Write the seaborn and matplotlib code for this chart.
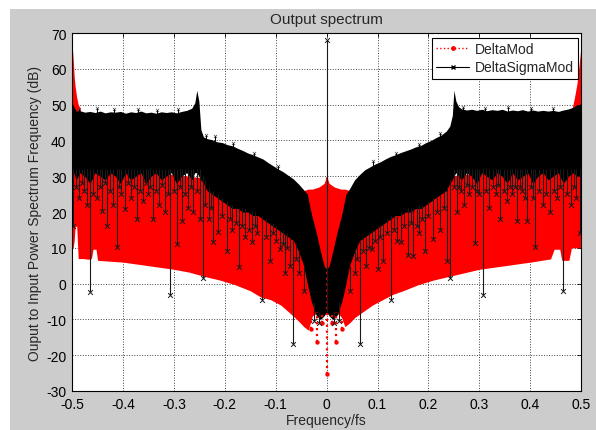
import seaborn as sns
import matplotlib.pyplot as plt
from matplotlib.lines import Line2D
from matplotlib.patches import Rectangle

# ---- data (frequency/fs, dB) ----

# DeltaMod (red): upper / lower edge of the dense red cloud
dm_freq = [-0.500, -0.498, -0.496, -0.494, -0.491, -0.488, -0.484, -0.478, -0.468, -0.462,
           -0.459, -0.453, -0.450, -0.430, -0.400, -0.370, -0.340, -0.300, -0.270, -0.240,
           -0.210, -0.180, -0.150, -0.130, -0.110, -0.090, -0.070, -0.055, -0.045, -0.036,
           -0.028, -0.015, -0.005, 0.000, 0.005, 0.015, 0.028, 0.036, 0.045, 0.055,
           0.070, 0.090, 0.110, 0.130, 0.150, 0.180, 0.210, 0.240, 0.270, 0.300,
           0.340, 0.370, 0.400, 0.440, 0.447, 0.458, 0.462, 0.476, 0.481, 0.487,
           0.492, 0.496, 0.500]
dm_hi = [66.5, 63.0, 58.0, 55.0, 52.0, 50.0, 49.0, 33.0, 32.0, 32.0,
         32.0, 32.0, 32.0, 32.0, 31.5, 31.0, 31.0, 30.5, 30.0, 29.5,
         29.0, 28.5, 28.0, 27.5, 27.0, 27.0, 26.5, 26.0, 26.0, 26.4,
         26.4, 27.0, 28.0, 30.0, 28.0, 27.0, 26.4, 26.4, 26.0, 26.0,
         27.0, 27.0, 27.5, 28.0, 28.5, 29.0, 29.5, 30.0, 30.5, 31.0,
         31.0, 31.5, 32.0, 32.0, 32.0, 32.0, 32.0, 33.0, 48.0, 52.0,
         56.0, 61.0, 66.5]
dm_lo = [10.0, 10.0, 12.0, 16.0, 16.0, 7.0, 7.0, 7.0, 6.8, 7.0,
         9.6, 9.6, 6.5, 6.3, 6.0, 5.4, 4.8, 4.0, 3.2, 2.0,
         1.0, -0.3, -2.0, -3.7, -4.5, -6.0, -8.5, -10.5, -12.0, -13.0,
         -9.0, -8.0, -8.0, -8.0, -8.0, -8.0, -9.0, -12.0, -11.0, -9.5,
         -8.0, -6.0, -4.5, -3.0, -2.0, -0.3, 1.0, 2.0, 3.0, 4.0,
         4.8, 5.4, 6.0, 6.9, 9.6, 9.6, 6.5, 6.5, 10.0, 10.0,
         10.0, 10.0, 10.0]

# DeltaMod dotted columns around dc
dm_col_freq = [-0.030, -0.019, -0.010, 0.000, 0.010, 0.019, 0.030]
dm_col_top = [-8, -8, -8, 30, -8, -8, -8]
dm_col_db = [-12.7, -16.3, -11.0, -25.3, -11.0, -16.3, -12.7]

# DeltaSigmaMod (black): upper / lower edge of the dense black cloud
ds_freq = [-0.500, -0.497, -0.492, -0.485, -0.475, -0.465, -0.455, -0.445, -0.435, -0.425,
           -0.415, -0.405, -0.395, -0.385, -0.375, -0.365, -0.355, -0.345, -0.335, -0.325,
           -0.315, -0.305, -0.295, -0.285, -0.275, -0.265, -0.259, -0.255, -0.251, -0.247,
           -0.242, -0.235, -0.225, -0.215, -0.205, -0.195, -0.185, -0.175, -0.165, -0.155,
           -0.145, -0.135, -0.125, -0.115, -0.105, -0.095, -0.085, -0.075, -0.065, -0.055,
           -0.045, -0.038, -0.030, -0.020, -0.012, -0.005, 0.000, 0.005, 0.012, 0.020,
           0.030, 0.038, 0.045, 0.055, 0.065, 0.075, 0.085, 0.095, 0.105, 0.115,
           0.125, 0.135, 0.145, 0.155, 0.165, 0.175, 0.185, 0.195, 0.205, 0.215,
           0.225, 0.235, 0.242, 0.247, 0.250, 0.254, 0.259, 0.265, 0.275, 0.285,
           0.295, 0.305, 0.315, 0.325, 0.335, 0.345, 0.355, 0.365, 0.375, 0.385,
           0.395, 0.405, 0.415, 0.425, 0.435, 0.445, 0.455, 0.465, 0.475, 0.485,
           0.492, 0.497, 0.500]
ds_hi = [50.5, 49.5, 48.2, 48.3, 47.9, 48.1, 47.8, 48.2, 47.7, 48.0,
         47.9, 48.1, 47.6, 48.0, 47.8, 48.2, 47.7, 47.9, 47.6, 48.0,
         47.8, 48.0, 47.7, 48.1, 48.4, 49.0, 50.5, 54.0, 51.0, 43.0,
         41.0, 40.5, 40.2, 39.6, 39.4, 38.8, 38.5, 37.8, 37.2, 36.5,
         36.0, 35.4, 34.8, 33.8, 32.9, 32.0, 31.2, 30.2, 29.2, 27.8,
         26.2, 25.0, 19.5, 14.0, 9.0, 5.0, 4.0, 5.0, 9.0, 14.0,
         19.5, 25.0, 26.5, 29.0, 30.5, 31.8, 32.6, 33.4, 34.0, 34.8,
         35.5, 36.0, 36.6, 37.1, 37.6, 38.2, 38.6, 39.4, 40.0, 40.8,
         41.5, 42.6, 44.0, 47.0, 54.0, 51.0, 49.5, 48.8, 48.5, 48.7,
         48.4, 48.7, 48.3, 48.6, 48.4, 48.7, 48.2, 48.5, 48.3, 48.6,
         48.2, 48.5, 48.2, 48.4, 48.2, 48.4, 48.1, 48.5, 48.8, 49.3,
         50.0, 50.0, 50.5]
ds_lo = [30, 31, 29, 31, 30, 28, 31, 30, 29, 31,
         30, 28, 31, 29, 30, 31, 28, 30, 31, 29,
         30, 31, 28, 30, 31, 29, 31, 31, 30, 29,
         28, 26, 25, 24, 23, 22, 21, 21, 20, 20,
         19, 19, 18, 17, 16, 15, 14, 13, 12, 9,
         5, 0, -5, -9, -10, -9, -8, -9, -10, -9,
         -5, 0, 5, 9, 12, 13, 14, 15, 16, 17,
         18, 19, 19, 20, 20, 21, 21, 22, 23, 24,
         25, 26, 28, 29, 30, 31, 30, 29, 31, 30,
         28, 31, 30, 29, 31, 30, 28, 31, 29, 30,
         31, 28, 30, 31, 29, 30, 31, 28, 30, 31,
         30, 30, 30]

# DeltaSigmaMod spikes reaching down into the red cloud (x marker at the end)
ds_spike_freq = [-0.498, -0.492, -0.487, -0.481, -0.476, -0.470, -0.465, -0.458, -0.452, -0.446,
                 -0.441, -0.436, -0.431, -0.425, -0.420, -0.412, -0.408, -0.404, -0.396, -0.390,
                 -0.385, -0.378, -0.372, -0.366, -0.360, -0.355, -0.350, -0.346, -0.341, -0.335,
                 -0.330, -0.324, -0.318, -0.312, -0.307, -0.300, -0.294, -0.289, -0.284, -0.278,
                 -0.272, -0.267, -0.262, -0.255, -0.249, -0.243, -0.238, -0.232, -0.228, -0.223,
                 -0.213, -0.205, -0.196, -0.190, -0.185, -0.178, -0.172, -0.166, -0.160, -0.153,
                 -0.146, -0.141, -0.136, -0.127, -0.120, -0.111, -0.105, -0.100, -0.091, -0.086,
                 -0.082, -0.077, -0.072, -0.066, -0.060, -0.055, -0.045, -0.025, -0.015, 0.000,
                 0.015, 0.025, 0.045, 0.055, 0.060, 0.066, 0.072, 0.078, 0.084, 0.090,
                 0.095, 0.100, 0.105, 0.111, 0.118, 0.127, 0.132, 0.138, 0.146, 0.153,
                 0.160, 0.165, 0.170, 0.177, 0.182, 0.188, 0.193, 0.200, 0.209, 0.216,
                 0.223, 0.230, 0.237, 0.243, 0.250, 0.256, 0.260, 0.264, 0.270, 0.275,
                 0.280, 0.286, 0.292, 0.296, 0.300, 0.307, 0.314, 0.320, 0.326, 0.332,
                 0.336, 0.341, 0.348, 0.355, 0.360, 0.364, 0.370, 0.374, 0.380, 0.384,
                 0.390, 0.394, 0.402, 0.406, 0.410, 0.418, 0.425, 0.432, 0.439, 0.446,
                 0.452, 0.459, 0.465, 0.472, 0.480, 0.486, 0.490, 0.498]
ds_spike_top = [32, 32, 32, 32, 32, 32, 32, 32, 32, 32,
                32, 32, 32, 32, 32, 32, 32, 32, 32, 32,
                32, 32, 32, 32, 32, 32, 32, 32, 32, 32,
                32, 32, 32, 32, 32, 32, 32, 32, 32, 32,
                32, 32, 32, 32, 32, 30, 29, 27, 26, 26,
                25, 24, 23, 22, 22, 21, 21, 21, 21, 20,
                20, 20, 19, 19, 18, 17, 17, 16, 15, 15,
                14, 14, 13, 12, 11, 9, 5, -5, -8, -8,
                -8, -5, 5, 9, 11, 12, 13, 13, 14, 15,
                15, 16, 16, 17, 18, 19, 19, 19, 20, 20,
                21, 21, 21, 21, 22, 22, 22, 23, 24, 24,
                25, 26, 27, 29, 32, 32, 32, 32, 32, 32,
                32, 32, 32, 32, 32, 32, 32, 32, 32, 32,
                32, 32, 32, 32, 32, 32, 32, 32, 32, 32,
                32, 32, 32, 32, 32, 32, 32, 32, 32, 32,
                32, 32, 32, 32, 32, 32, 32, 32]
ds_spike_db = [16.0, 27.0, 24.0, 28.0, 26.0, 22.0, -2.3, 25.0, 24.0, 27.0,
               20.3, 28.0, 16.0, 26.0, 22.0, 10.2, 27.0, 25.0, 20.8, 28.0,
               24.0, 27.0, 18.0, 26.0, 23.0, 28.0, 25.0, 27.0, 18.0, 26.0,
               22.0, 27.5, 20.0, 25.0, -3.2, 26.0, 11.0, 27.0, 17.6, 25.0,
               21.0, 27.0, 20.0, 26.0, 18.0, 1.5, 22.0, 18.0, 21.0, 11.6,
               14.4, 19.0, 9.0, 18.0, 15.0, 17.0, 4.6, 16.0, 13.0, 15.0,
               11.6, 16.0, 14.0, -4.6, 13.0, 6.3, 14.0, 12.0, 9.6, 11.0,
               3.0, 10.0, 5.0, -17.0, 7.0, 3.0, -2.0, -10.5, -11.0, 68.0,
               -11.0, -10.5, -2.0, 3.0, 7.0, -17.0, 9.0, 5.0, 10.0, 9.6,
               12.0, 4.0, 13.0, 6.3, 14.0, -4.6, 15.0, 12.0, 11.6, 16.0,
               8.0, 17.0, 7.7, 16.0, 14.0, 18.0, 9.0, 19.0, 12.5, 20.0,
               15.0, 21.0, 6.3, 1.5, 27.0, 20.0, 27.0, 26.0, 22.0, 27.5,
               25.0, 27.0, 11.4, 26.0, 25.0, -3.2, 26.0, 21.0, 27.0, 25.0,
               27.5, 18.0, 26.0, 23.0, 27.0, 25.0, 27.0, 17.6, 27.0, 26.0,
               24.0, 17.6, 27.0, 24.0, 10.2, 26.0, 22.0, 25.0, 20.0, 26.0,
               24.0, 27.0, -2.0, 25.0, 22.0, 27.0, 24.0, 14.0]

# DeltaSigmaMod hairs sticking out of the top of the black cloud
ds_hair_freq = [-0.487, -0.452, -0.418, -0.371, -0.333, -0.291, -0.236, -0.219, -0.183, -0.142,
                -0.096, 0.092, 0.136, 0.181, 0.222, 0.268, 0.311, 0.357, 0.401, 0.444]
ds_hair_db = [48.9, 49.2, 48.7, 48.9, 48.5, 48.8, 41.4, 41.3, 39.3, 36.6,
              32.8, 34.2, 36.6, 39.1, 42.2, 49.4, 49.2, 49.3, 49.0, 49.1]

x_ticks = [-0.5, -0.4, -0.3, -0.2, -0.1, 0.0, 0.1, 0.2, 0.3, 0.4, 0.5]
x_ticklabels = ['-0.5', '-0.4', '-0.3', '-0.2', '-0.1', '0', '0.1', '0.2', '0.3', '0.4', '0.5']
y_ticks = [-30, -20, -10, 0, 10, 20, 30, 40, 50, 60, 70]

# ---- style ----
sns.set_style('white')
plt.rcParams['font.family'] = ['Liberation Sans', 'DejaVu Sans']
plt.rcParams['axes.unicode_minus'] = False

fig = plt.figure(figsize=(5.96, 4.31), dpi=100)
fig.patch.set_facecolor('white')
# grey MATLAB figure window, with a thin white strip on the top and left
fig.add_artist(Rectangle((10 / 596, 0), 1 - 10 / 596, 1 - 10 / 431,
                         transform=fig.transFigure, facecolor='#cccccc',
                         edgecolor='none', zorder=-1))

ax = fig.add_axes([0.121, 0.0905, 0.854, 0.8305])
ax.set_facecolor('white')

# red cloud
ax.fill_between(dm_freq, dm_lo, dm_hi, color='red', linewidth=0)
ax.vlines(dm_col_freq, dm_col_db, dm_col_top, colors='red', linestyles=':', linewidth=1.6)
sns.scatterplot(x=dm_col_freq, y=dm_col_db, marker='o', color='red', s=10,
                linewidth=0, ax=ax, legend=False)

# black cloud
ax.fill_between(ds_freq, ds_lo, ds_hi, color='black', linewidth=0)
ax.vlines(ds_spike_freq, ds_spike_db, ds_spike_top, colors='#1a1a1a', linewidth=0.8)
sns.scatterplot(x=ds_spike_freq, y=ds_spike_db, marker='x', color='#1a1a1a', s=12,
                linewidth=0.7, ax=ax, legend=False)
ax.vlines(ds_hair_freq, [v - 2 for v in ds_hair_db], ds_hair_db, colors='black', linewidth=0.7)
sns.scatterplot(x=ds_hair_freq, y=ds_hair_db, marker='x', color='#444444', s=5,
                linewidth=0.5, ax=ax, legend=False)

ax.set_xlim(-0.5, 0.5)
ax.set_ylim(-30, 70)
ax.set_xticks(x_ticks)
ax.set_xticklabels(x_ticklabels)
ax.set_yticks(y_ticks)
ax.set_axisbelow(True)
ax.grid(True, linestyle=':', color='#444444', linewidth=0.7)
ax.tick_params(direction='in', length=3, width=0.6, labelsize=10, colors='black',
               top=True, right=True, pad=4)
for s in ax.spines.values():
    s.set_color('black')
    s.set_linewidth(0.8)

ax.set_title('Output spectrum', fontsize=11, pad=7)
ax.set_xlabel('Frequency/fs', fontsize=10, labelpad=2)
ax.set_ylabel('Ouput to Input Power Spectrum Frequency (dB)', fontsize=10, labelpad=3)

handles = [Line2D([], [], color='red', linestyle=':', marker='.', markersize=5, linewidth=1),
           Line2D([], [], color='black', linestyle='-', marker='x', markersize=3, linewidth=0.8)]
leg = ax.legend(handles, ['DeltaMod', 'DeltaSigmaMod'], loc='upper right',
                bbox_to_anchor=(0.994, 0.986), borderaxespad=0, fontsize=10,
                fancybox=False, framealpha=1, edgecolor='black', handlelength=2.4,
                labelspacing=0.3, borderpad=0.3, handletextpad=0.4)
leg.get_frame().set_linewidth(0.8)

fig.savefig('out.png', dpi=100)
